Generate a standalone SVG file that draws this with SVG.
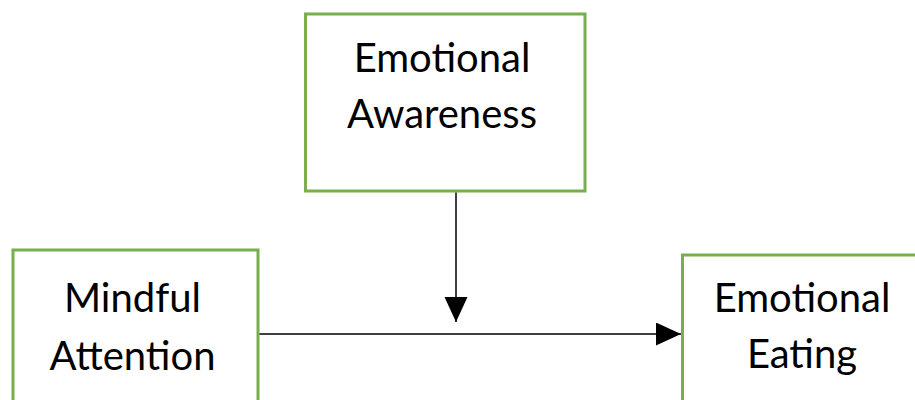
<svg xmlns="http://www.w3.org/2000/svg" width="915" height="400" viewBox="0 0 915 400">
  <style>
    .box { fill: #ffffff; stroke: #78ae4d; stroke-width: 3; }
    .lbl { font-family: Lato, "Open Sans", "Liberation Sans", sans-serif; font-size: 40px; fill: #000000; text-anchor: middle; }
    .conn { stroke: #000000; stroke-width: 1.5; fill: none; }
  </style>
  <defs>
    <marker id="arrow" markerUnits="userSpaceOnUse" markerWidth="26" markerHeight="24" refX="25" refY="11.5" orient="auto">
      <path d="M0,0 L25,11.5 L0,23 Z" fill="#000000"/>
    </marker>
  </defs>
  <rect width="915" height="400" fill="#ffffff"/>
  <g id="emotional-awareness">
    <rect class="box" x="305.5" y="14" width="279.5" height="177"/>
    <text class="lbl" x="442" y="72">Emotional</text>
    <text class="lbl" x="442" y="128">Awareness</text>
  </g>
  <g id="mindful-attention">
    <rect class="box" x="13" y="250" width="245" height="170"/>
    <text class="lbl" x="132.5" y="312">Mindful</text>
    <text class="lbl" x="132.5" y="370">Attention</text>
  </g>
  <g id="emotional-eating">
    <rect class="box" x="682.5" y="255" width="245" height="170"/>
    <text class="lbl" x="802" y="312">Emotional</text>
    <text class="lbl" x="802" y="368">Eating</text>
  </g>
  <g id="connectors">
    <line class="conn" x1="456" y1="192.5" x2="456" y2="322" marker-end="url(#arrow)"/>
    <line class="conn" x1="259.5" y1="334" x2="681" y2="334" marker-end="url(#arrow)"/>
  </g>
</svg>
